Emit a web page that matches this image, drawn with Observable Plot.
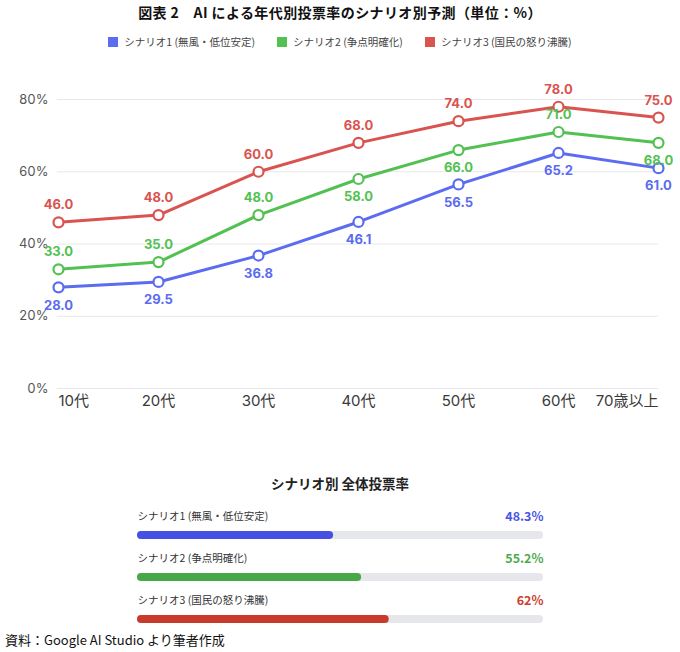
<!DOCTYPE html>
<html><head><meta charset="utf-8">
<script src="https://cdn.jsdelivr.net/npm/d3@7"></script>
<script src="https://cdn.jsdelivr.net/npm/@observablehq/plot@0.6"></script>
<style>
body{margin:0;width:680px;height:652px;background:#fff;font-family:"Noto Sans CJK JP",sans-serif;position:relative;overflow:hidden}
#title{position:absolute;top:2px;left:0;width:680px;text-align:center;font-size:14px;font-weight:700;color:#111;letter-spacing:0.4px}
#legend{position:absolute;top:34px;left:0;width:680px;display:flex;justify-content:center;gap:22px;font-size:10.5px;color:#444}
#legend .item{display:flex;align-items:center;gap:6px}
#legend .sw{width:10px;height:10px;display:inline-block}
#main{position:absolute;top:60px;left:0}
#subtitle{position:absolute;top:473px;left:0;width:680px;text-align:center;font-size:13.5px;font-weight:700;color:#222}
#bars{position:absolute;top:495px;left:0}
#source{position:absolute;top:630px;left:5px;font-size:13px;color:#111}
</style>
</head><body>
<div id="title"></div>
<div id="legend"></div>
<div id="main"></div>
<div id="subtitle"></div>
<div id="bars"></div>
<div id="source"></div>
<script>
const titleText = "図表 2　AI による年代別投票率のシナリオ別予測（単位：%）";
const subtitleText = "シナリオ別 全体投票率";
const sourceText = "資料：Google AI Studio より筆者作成";
const ages = ["10代","20代","30代","40代","50代","60代","70歳以上"];
const scenarios = ["シナリオ1 (無風・低位安定)","シナリオ2 (争点明確化)","シナリオ3 (国民の怒り沸騰)"];
const scenario1 = [28.0,29.5,36.8,46.1,56.5,65.2,61.0];
const scenario2 = [33.0,35.0,48.0,58.0,66.0,71.0,68.0];
const scenario3 = [46.0,48.0,60.0,68.0,74.0,78.0,75.0];
const overall = [48.3,55.2,62];
const overallLabels = ["48.3%","55.2%","62%"];
const yTicks = [0,20,40,60,80];

const lineColors = ["#5b6cf0","#52c152","#d9534f"];
const barColors = ["#4551e3","#46a846","#c93a2c"];
const valueColors = ["#4a55e6","#4caa4c","#cc3d30"];

document.getElementById("title").textContent = titleText;
document.getElementById("subtitle").textContent = subtitleText;
document.getElementById("source").textContent = sourceText;

const legend = document.getElementById("legend");
scenarios.forEach((s,i)=>{
  const it = document.createElement("span"); it.className="item";
  const sw = document.createElement("span"); sw.className="sw"; sw.style.background=lineColors[i];
  const t = document.createElement("span"); t.textContent = s;
  it.appendChild(sw); it.appendChild(t); legend.appendChild(it);
});

const series = [scenario1, scenario2, scenario3];
const rows = [];
series.forEach((vals,i)=>vals.forEach((v,j)=>rows.push({age:ages[j], scenario:scenarios[i], value:v, si:i})));
// label placement: red above, blue below, green varies to avoid overlaps
const greenBelow = new Set(["40代","50代","70歳以上"]);
const isBelow = d => d.si===0 || (d.si===1 && greenBelow.has(d.age));
const fmt = d => d.value.toFixed(1);

const main = Plot.plot({
  width:680, height:360, marginTop:39, marginBottom:32, marginLeft:57, marginRight:22,
  x:{type:"point", domain:ages, padding:0, axis:null},
  y:{domain:[0,80]},
  color:{domain:scenarios, range:lineColors},
  style:{fontFamily:"Inter, 'Noto Sans CJK JP', sans-serif", background:"transparent", overflow:"visible"},
  marks:[
    Plot.ruleY(yTicks,{stroke:"#e8e8ec", strokeWidth:1}),
    Plot.axisY(yTicks,{tickSize:0, tickPadding:9, tickFormat:d=>d+"%", fontSize:13, fill:"#555", label:null}),
    Plot.text([ages[0]],{x:d=>d, frameAnchor:"bottom", dy:17, textAnchor:"start", fontSize:15, fill:"#3a3a3a"}),
    Plot.text(ages.slice(1,-1),{x:d=>d, frameAnchor:"bottom", dy:17, textAnchor:"middle", fontSize:15, fill:"#3a3a3a"}),
    Plot.text(ages.slice(-1),{x:d=>d, frameAnchor:"bottom", dy:17, textAnchor:"end", fontSize:15, fill:"#3a3a3a"}),
    Plot.line(rows,{x:"age", y:"value", z:"scenario", stroke:"scenario", strokeWidth:3}),
    Plot.dot(rows,{x:"age", y:"value", stroke:"scenario", fill:"white", r:5, strokeWidth:2.2}),
    Plot.text(rows.filter(d=>!isBelow(d)),{x:"age", y:"value", text:fmt, fill:"scenario", dy:-17, fontSize:13, fontWeight:700}),
    Plot.text(rows.filter(isBelow),{x:"age", y:"value", text:fmt, fill:"scenario", dy:18, fontSize:13, fontWeight:700})
  ]
});
document.getElementById("main").appendChild(main);

const barRows = scenarios.map((s,i)=>({scenario:s, value:overall[i], label:overallLabels[i]}));
const bars = Plot.plot({
  width:680, height:150, marginLeft:137, marginRight:137, marginTop:0, marginBottom:0,
  x:{domain:[0,100], axis:null},
  y:{domain:scenarios, range:[19,145], padding:0, axis:null},
  color:{domain:scenarios, range:barColors},
  style:{fontFamily:"'Noto Sans CJK JP', sans-serif", background:"transparent", overflow:"visible"},
  marks:[
    Plot.barX(barRows,{x1:0, x2:100, y:"scenario", fill:"#e6e7eb", insetTop:17, insetBottom:17, rx:4}),
    Plot.barX(barRows,{x1:0, x2:"value", y:"scenario", fill:"scenario", insetTop:17, insetBottom:17, rx:4}),
    Plot.text(barRows,{x:0, y:"scenario", text:"scenario", textAnchor:"start", dy:-19, fontSize:10.5, fill:"#333"}),
    Plot.text(barRows,{x:100, y:"scenario", text:"label", textAnchor:"end", dy:-19, fontSize:12.5, fontWeight:700,
      fill:d=>valueColors[scenarios.indexOf(d.scenario)]})
  ]
});
document.getElementById("bars").appendChild(bars);
</script>
</body></html>
